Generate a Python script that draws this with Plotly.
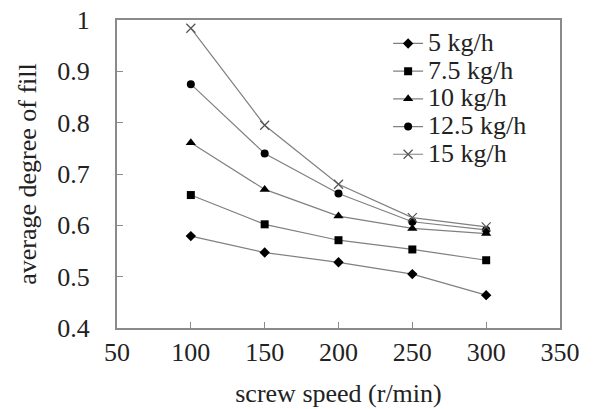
import plotly.graph_objects as go

speeds = [100, 150, 200, 250, 300]
series_names = ["5 kg/h", "7.5 kg/h", "10 kg/h", "12.5 kg/h", "15 kg/h"]
fill_5 = [0.579, 0.547, 0.528, 0.505, 0.464]
fill_7_5 = [0.659, 0.602, 0.571, 0.553, 0.532]
fill_10 = [0.761, 0.670, 0.618, 0.594, 0.584]
fill_12_5 = [0.875, 0.740, 0.662, 0.607, 0.591]
fill_15 = [0.984, 0.795, 0.680, 0.615, 0.597]
x_ticks = [50, 100, 150, 200, 250, 300, 350]
y_ticks = [0.4, 0.5, 0.6, 0.7, 0.8, 0.9, 1.0]
y_tick_text = ["0.4", "0.5", "0.6", "0.7", "0.8", "0.9", "1"]

symbols = ["diamond", "square", "triangle-up", "circle", "x-thin"]
sizes = [8, 8, 9, 8, 9]
all_vals = [fill_5, fill_7_5, fill_10, fill_12_5, fill_15]

FONT = "Liberation Serif"
FS = 26
fig = go.Figure()
for name, vals, sym, sz in zip(series_names, all_vals, symbols, sizes):
    fig.add_trace(go.Scatter(
        x=speeds, y=vals,
        name=f'<span style="font-size:{FS}px">{name}</span>',
        mode="lines+markers",
        line=dict(color="#808080", width=1.2),
        marker=dict(symbol=sym, size=sz, color="black",
                    line=dict(color="#555555", width=1.2) if sym == "x-thin" else dict(width=0)),
    ))

axis_common = dict(
    showline=True, linecolor="#8a8a8a", linewidth=2, mirror=True,
    ticks="inside", ticklen=6, tickcolor="#8a8a8a", tickwidth=1,
    showgrid=False, zeroline=False, automargin=False,
    tickfont=dict(family=FONT, size=FS, color="#222"),
)
fig.update_layout(
    width=593, height=409,
    margin=dict(l=117, r=33, t=20, b=81),
    paper_bgcolor="white", plot_bgcolor="white",
    font=dict(family=FONT, color="#222"),
    showlegend=True,
    legend=dict(x=0.612, y=0.985, xanchor="left", yanchor="top",
                bgcolor="rgba(0,0,0,0)", borderwidth=0,
                font=dict(family=FONT, size=19, color="#222"),
                tracegroupgap=0, itemwidth=30),
    xaxis=dict(range=[50, 350], tickvals=x_ticks,
               title=dict(text="screw speed (r/min)", font=dict(family=FONT, size=FS), standoff=18),
               ticklabelstandoff=0, **axis_common),
    yaxis=dict(range=[0.4, 1.0], tickvals=y_ticks, ticktext=y_tick_text,
               title=dict(text="average degree of fill", font=dict(family=FONT, size=FS), standoff=13),
               ticklabelstandoff=20, **axis_common),
)
fig.write_html("out.html")
